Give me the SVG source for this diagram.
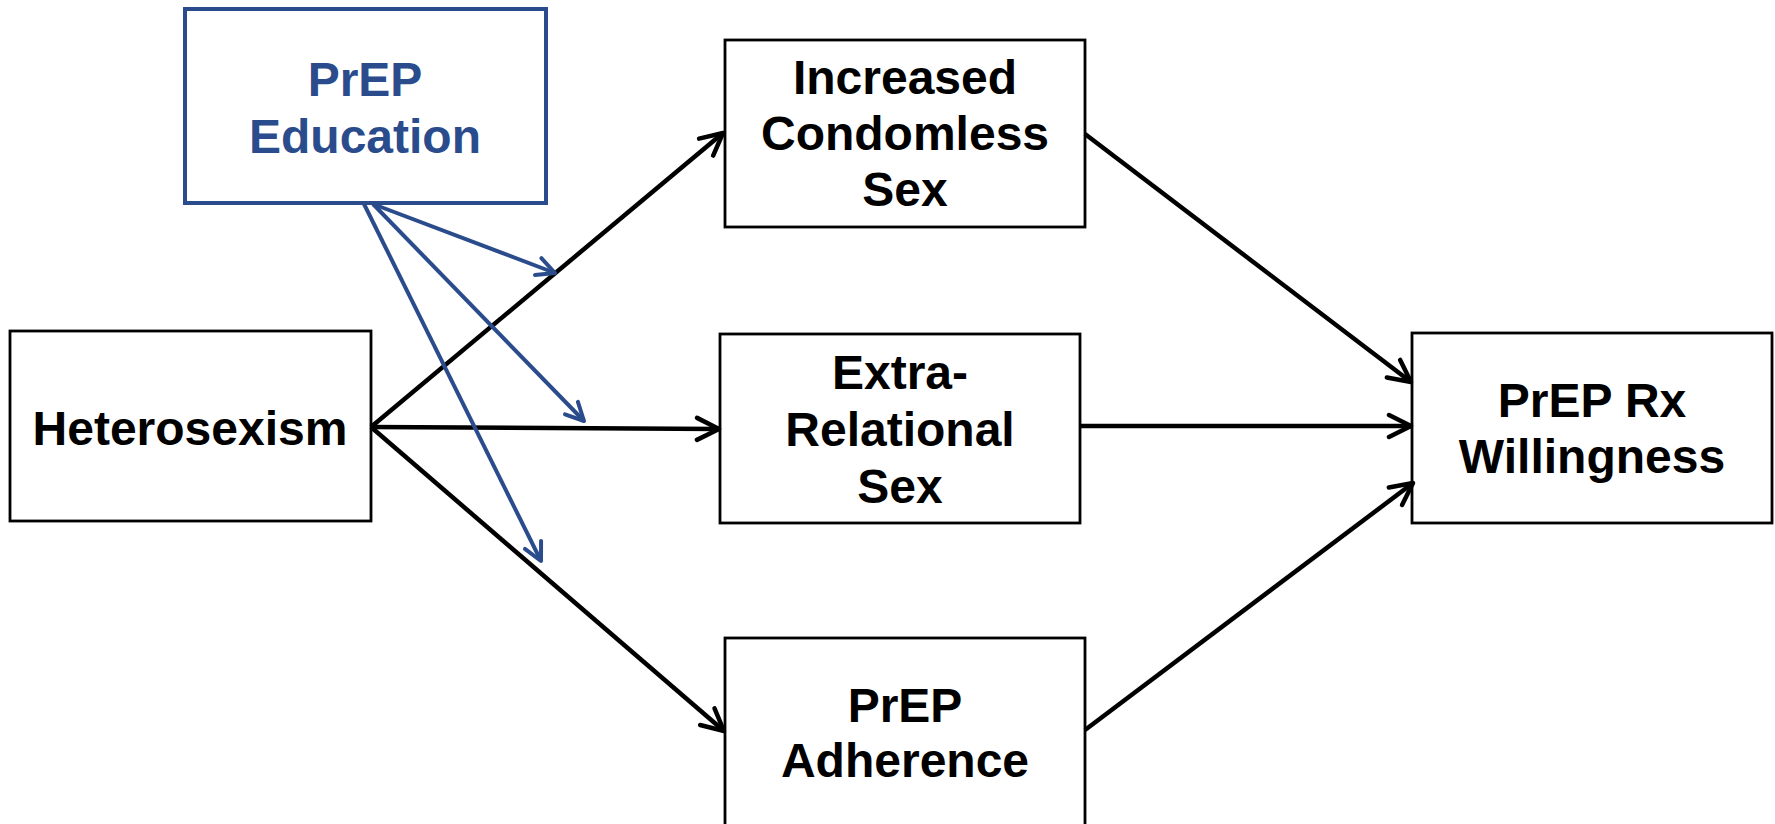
<svg xmlns="http://www.w3.org/2000/svg" width="1775" height="824" viewBox="0 0 1775 824">
<style>
.box{fill:#fff;stroke:#000;stroke-width:2.8}
.bbox{fill:#fff;stroke:#2B4C8C;stroke-width:4}
.t{font-family:"Liberation Sans",Arial,sans-serif;font-weight:bold;font-size:48px;text-anchor:middle;fill:#000}
.bt{fill:#2B4C8C}
.k{stroke:#000;stroke-width:4.5;fill:none}
.b{stroke:#2B4C8C;stroke-width:4;fill:none}
</style>
<defs>
<marker id="ak" viewBox="-3 -3 28 28" refX="22" refY="11" markerWidth="28" markerHeight="28" markerUnits="userSpaceOnUse" orient="auto">
<path d="M0,0 L22,11 L0,22" fill="none" stroke="#000" stroke-width="4.5" stroke-linecap="round" stroke-linejoin="round"/>
</marker>
<marker id="ab" viewBox="-3 -3 24 24" refX="18" refY="9" markerWidth="24" markerHeight="24" markerUnits="userSpaceOnUse" orient="auto">
<path d="M0,0 L18,9 L0,18" fill="none" stroke="#2B4C8C" stroke-width="4" stroke-linecap="round" stroke-linejoin="round"/>
</marker>
</defs>
<rect width="1775" height="824" fill="#fff"/>
<g id="prep-education">
<rect class="bbox" x="185" y="9" width="361" height="194"/>
<text class="t bt" x="365" y="96">PrEP</text>
<text class="t bt" x="365" y="153">Education</text>
</g>
<g id="heterosexism">
<rect class="box" x="10" y="331" width="361" height="190"/>
<text class="t" x="190" y="445">Heterosexism</text>
</g>
<g id="condomless">
<rect class="box" x="725" y="40" width="360" height="187"/>
<text class="t" x="905" y="94">Increased</text>
<text class="t" x="905" y="150">Condomless</text>
<text class="t" x="905" y="206">Sex</text>
</g>
<g id="extra-relational">
<rect class="box" x="720" y="334" width="360" height="189"/>
<text class="t" x="900" y="389">Extra-</text>
<text class="t" x="900" y="446">Relational</text>
<text class="t" x="900" y="503">Sex</text>
</g>
<g id="prep-rx">
<rect class="box" x="1412" y="333" width="360" height="190"/>
<text class="t" x="1592" y="417">PrEP Rx</text>
<text class="t" x="1592" y="473">Willingness</text>
</g>
<g id="adherence">
<rect class="box" x="725" y="638" width="360" height="220"/>
<text class="t" x="905" y="722">PrEP</text>
<text class="t" x="905" y="777">Adherence</text>
</g>
<g id="connectors">
<line class="k" x1="371" y1="427" x2="723" y2="133" marker-end="url(#ak)"/>
<line class="k" x1="371" y1="427" x2="719" y2="429" marker-end="url(#ak)"/>
<line class="k" x1="371" y1="427" x2="724" y2="731" marker-end="url(#ak)"/>
<line class="k" x1="1085" y1="134" x2="1411" y2="382" marker-end="url(#ak)"/>
<line class="k" x1="1080" y1="426" x2="1411" y2="426" marker-end="url(#ak)"/>
<line class="k" x1="1085" y1="730" x2="1413" y2="483" marker-end="url(#ak)"/>
<line class="b" x1="373" y1="204" x2="555" y2="273" marker-end="url(#ab)"/>
<line class="b" x1="373" y1="204" x2="584" y2="421" marker-end="url(#ab)"/>
<line class="b" x1="364" y1="204" x2="541" y2="561" marker-end="url(#ab)"/>
</g>
</svg>
